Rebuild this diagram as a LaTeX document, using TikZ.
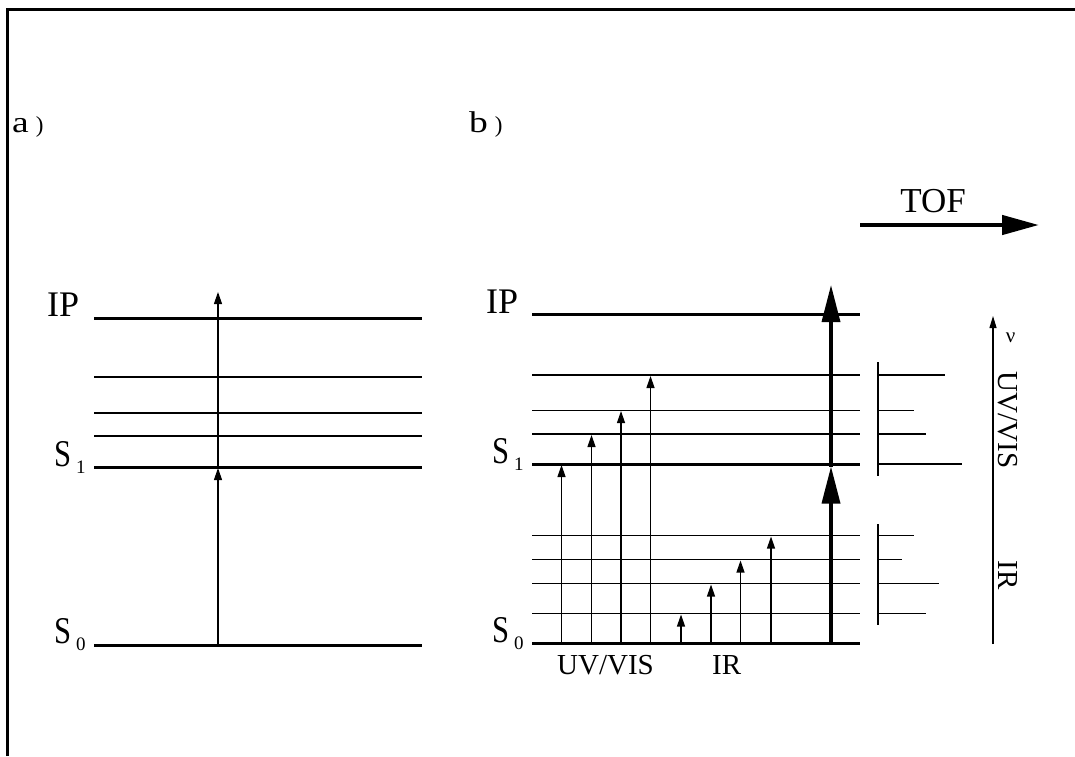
\documentclass[tikz,border=0pt]{standalone}
\usepackage{fontspec}
\setmainfont{Liberation Serif}
\usepackage{graphicx}
\usetikzlibrary{arrows.meta}
\newcommand{\SLab}[1]{\scalebox{0.85}[1.05]{S}\kern5pt\raisebox{-7pt}{\fontsize{19}{19}\selectfont #1}}
\newcommand{\PLab}[1]{\scalebox{1.25}[1]{\fontsize{30}{30}\selectfont #1}\kern7pt{\fontsize{23}{23}\selectfont )}}
\tikzset{
  lvlthick/.style={line width=3pt},
  lvlthin/.style={line width=1.5pt},
  thinarrow/.style={line width=1.2pt,-{Triangle[length=12pt,width=8pt]}},
  bigarrow/.style={line width=3.5pt,-{Triangle[length=37pt,width=18pt]}},
  toflabel/.style={inner sep=0pt,font=\fontsize{35}{37}\selectfont},
  biglabel/.style={inner sep=0pt,anchor=base west,font=\fontsize{36}{38}\selectfont},
  midlabel/.style={inner sep=0pt,font=\fontsize{29}{31}\selectfont},
  panellabel/.style={inner sep=0pt,anchor=base west},
  bar/.style={line width=1.5pt}
}
\begin{document}
\begin{tikzpicture}[x=1pt,y=-1pt]
\useasboundingbox (0,0) rectangle (1075,756);
% frame (only top and left visible)
\draw[line width=3pt] (7,756) -- (7,9.5) -- (1075,9.5);

% panel labels
\node[panellabel] (pa) at (12,132) {\PLab{a}};
\node[panellabel] (pb) at (469,132) {\PLab{b}};

% ---------- panel a ----------
\coordinate (aIPl) at (94,318); \coordinate (aIPr) at (422,318);
\coordinate (aL3l) at (94,377); \coordinate (aL3r) at (422,377);
\coordinate (aL2l) at (94,413); \coordinate (aL2r) at (422,413);
\coordinate (aL1l) at (94,436); \coordinate (aL1r) at (422,436);
\coordinate (aS1l) at (94,467); \coordinate (aS1r) at (422,467);
\coordinate (aS0l) at (94,645); \coordinate (aS0r) at (422,645);
\draw[lvlthick] (aIPl) -- (aIPr);
\draw[lvlthin] (aL3l) -- (aL3r);
\draw[lvlthin] (aL2l) -- (aL2r);
\draw[lvlthin] (aL1l) -- (aL1r);
\draw[lvlthick] (aS1l) -- (aS1r);
\draw[lvlthick] (aS0l) -- (aS0r);
\node[biglabel] (aIP) at (47,316) {IP};
\node[biglabel] (aS1) at (54,466) {\SLab{1}};
\node[biglabel] (aS0) at (54,643) {\SLab{0}};
\coordinate (aA0) at (218,645);
\coordinate (aA1) at (218,468);
\coordinate (aA2) at (218,292);
\draw[thinarrow] (aA0) -- (aA1);
\draw[thinarrow] (aA1) -- (aA2);

% ---------- panel b ----------
\foreach \n/\y/\s in {IP/314.5/lvlthick, U3/375/lvlthin, U2/410.5/lvlthin, U1/434/lvlthin, S1/464/lvlthick,
                      R4/535.5/lvlthin, R3/559.5/lvlthin, R2/583.5/lvlthin, R1/613.5/lvlthin, S0/643.5/lvlthick}{
  \coordinate (b\n l) at (532,\y);
  \coordinate (b\n r) at (860,\y);
  \draw[\s] (b\n l) -- (b\n r);
}
\node[biglabel] (bIP) at (486,313) {IP};
\node[biglabel] (bS1) at (492,463) {\SLab{1}};
\node[biglabel] (bS0) at (492,642) {\SLab{0}};

% UV/VIS arrows
\coordinate (uvs1) at (561.5,643.5); \coordinate (uve1) at (561.5,465);
\coordinate (uvs2) at (591.5,643.5); \coordinate (uve2) at (591.5,435);
\coordinate (uvs3) at (621,643.5);   \coordinate (uve3) at (621,411);
\coordinate (uvs4) at (650.5,643.5); \coordinate (uve4) at (650.5,376);
\foreach \i in {1,2,3,4}{ \draw[thinarrow] (uvs\i) -- (uve\i); }
% IR arrows
\coordinate (irs1) at (681,643.5); \coordinate (ire1) at (681,614.5);
\coordinate (irs2) at (711,643.5); \coordinate (ire2) at (711,584.5);
\coordinate (irs3) at (740.5,643.5); \coordinate (ire3) at (740.5,560.5);
\coordinate (irs4) at (771,643.5); \coordinate (ire4) at (771,536.5);
\foreach \i in {1,2,3,4}{ \draw[thinarrow] (irs\i) -- (ire\i); }
% big two-photon arrows
\coordinate (bg0) at (831,643.5);
\coordinate (bg1) at (831,466.5);
\coordinate (bg2) at (831,285);
\draw[bigarrow] (bg0) -- (bg1);
\draw[bigarrow] (bg1) -- (bg2);

\node[midlabel,anchor=base west] (luv) at (557,674) {UV/VIS};
\node[midlabel,anchor=base west] (lir) at (712,674) {IR};

% spectra bars
\coordinate (v1t) at (878,362); \coordinate (v1b) at (878,476);
\draw[bar] (v1t) -- (v1b);
\draw[lvlthin] (878,375) -- (945,375);
\draw[lvlthin] (878,410.5) -- (914,410.5);
\draw[lvlthin] (878,434) -- (926,434);
\draw[lvlthin] (878,464) -- (962,464);
\coordinate (v2t) at (878,524); \coordinate (v2b) at (878,625);
\draw[bar] (v2t) -- (v2b);
\draw[lvlthin] (878,535.5) -- (914,535.5);
\draw[lvlthin] (878,559.5) -- (902,559.5);
\draw[lvlthin] (878,583.5) -- (939,583.5);
\draw[lvlthin] (878,613.5) -- (926,613.5);

% frequency axis
\coordinate (fa0) at (993,644);
\coordinate (fa1) at (993,316);
\draw[line width=1.2pt,-{Triangle[length=12pt,width=7pt]}] (fa0) -- (fa1);
\node[inner sep=0pt,font=\fontsize{21}{21}\selectfont] (nu) at (1010.5,338) {ν};
\node[midlabel,rotate=-90] (ruv) at (1008,420) {UV/VIS};
\node[midlabel,rotate=-90] (rir) at (1008,575) {IR};

% TOF
\coordinate (tof0) at (860,225);
\coordinate (tof1) at (1039,225);
\draw[line width=4.5pt,-{Triangle[length=37pt,width=19pt]}] (tof0) -- (tof1);
\node[toflabel,anchor=base] (tof) at (933,212) {TOF};
\end{tikzpicture}
\end{document}
